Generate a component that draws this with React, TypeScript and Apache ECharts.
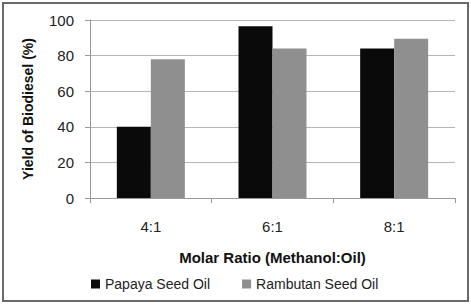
import React, { useEffect, useRef } from "react";
import * as echarts from "echarts";

const categories = ["4:1", "6:1", "8:1"];
const papaya = [40, 96.5, 84];
const rambutan = [78, 84, 89.5];
const yTicks = [0, 20, 40, 60, 80, 100];

export default function App() {
  const ref = useRef<HTMLDivElement>(null);

  useEffect(() => {
    const chart = echarts.init(ref.current!, null, { renderer: "svg" });
    const font = "Liberation Sans, Arial, sans-serif";
    chart.setOption({
      animation: false,
      backgroundColor: "#ffffff",
      textStyle: { fontFamily: font },
      graphic: [
        {
          type: "rect",
          shape: { x: 3, y: 3, width: 465, height: 298 },
          style: { fill: "none", stroke: "#6a6a6a", lineWidth: 2 },
        },
      ],
      grid: { left: 90, right: 16, top: 20, bottom: 107 },
      legend: {
        bottom: 9,
        left: 86,
        itemGap: 32,
        itemWidth: 9,
        itemHeight: 9,
        icon: "rect",
        textStyle: { fontSize: 14, color: "#222", fontFamily: font },
        data: ["Papaya Seed Oil", "Rambutan Seed Oil"],
      },
      xAxis: {
        type: "category",
        data: categories,
        name: "Molar Ratio (Methanol:Oil)",
        nameLocation: "middle",
        nameGap: 52,
        nameTextStyle: { fontSize: 15, fontWeight: "bold", color: "#111", fontFamily: font },
        axisLine: { lineStyle: { color: "#999", width: 1 } },
        axisTick: { show: true, alignWithLabel: false, length: 5, lineStyle: { color: "#999" } },
        axisLabel: { fontSize: 15, color: "#222", margin: 21, fontFamily: font },
      },
      yAxis: {
        type: "value",
        min: 0,
        max: 100,
        interval: 20,
        name: "Yield of Biodiesel (%)",
        nameLocation: "middle",
        nameGap: 55,
        nameTextStyle: { fontSize: 14, fontWeight: "bold", color: "#111", fontFamily: font },
        axisLine: { show: true, lineStyle: { color: "#999", width: 1 } },
        axisTick: { show: true, length: 5, lineStyle: { color: "#999" } },
        axisLabel: {
          fontSize: 15,
          color: "#222",
          margin: 16,
          fontFamily: font,
          formatter: (v: number) => (yTicks.includes(v) ? String(v) : ""),
        },
        splitLine: { lineStyle: { color: "#b5b5b5", width: 1 } },
      },
      series: [
        {
          name: "Papaya Seed Oil",
          type: "bar",
          data: papaya,
          barWidth: 34,
          barGap: "0%",
          itemStyle: { color: "#0a0a0a" },
        },
        {
          name: "Rambutan Seed Oil",
          type: "bar",
          data: rambutan,
          barWidth: 34,
          itemStyle: { color: "#8f8f8f" },
        },
      ],
    });
    return () => chart.dispose();
  }, []);

  return (
    <div
      ref={ref}
      style={{ position: "fixed", left: 0, top: 0, width: 471, height: 305 }}
    />
  );
}
